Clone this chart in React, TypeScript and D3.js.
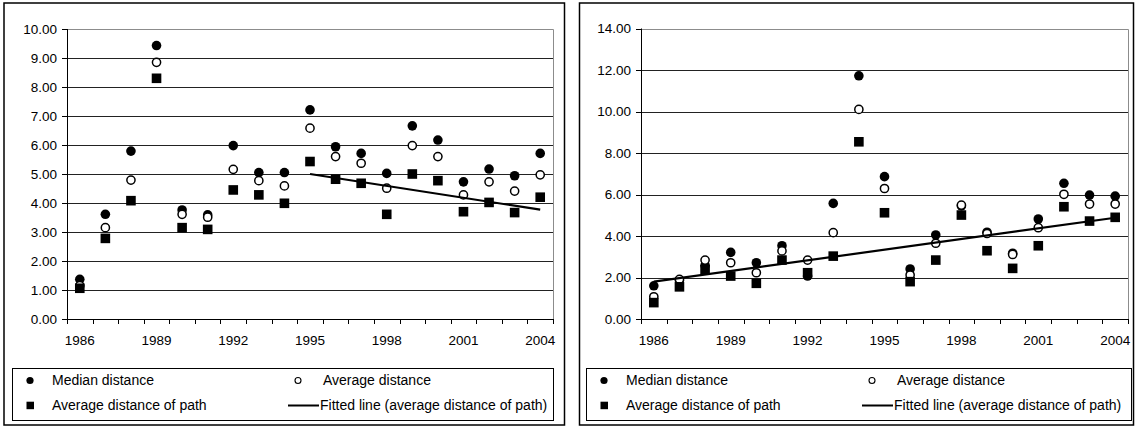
import React from 'react';
import * as d3 from 'd3';

// ---------- data ----------
const years = ['1986', '1987', '1988', '1989', '1990', '1991', '1992', '1993', '1994', '1995',
  '1996', '1997', '1998', '1999', '2000', '2001', '2002', '2003', '2004'];
const yearLabels = ['1986', '1989', '1992', '1995', '1998', '2001', '2004'];

const leftMedian = [1.37, 3.61, 5.79, 9.43, 3.76, 3.59, 5.98, 5.05, 5.05, 7.21,
  5.94, 5.71, 5.02, 6.66, 6.17, 4.73, 5.17, 4.94, 5.71];
const leftAverage = [1.15, 3.15, 4.79, 8.85, 3.61, 3.51, 5.16, 4.77, 4.59, 6.58,
  5.60, 5.37, 4.51, 5.98, 5.60, 4.28, 4.73, 4.41, 4.97];
const leftPath = [1.06, 2.78, 4.08, 8.30, 3.15, 3.09, 4.45, 4.28, 3.99, 5.43,
  4.82, 4.68, 3.61, 5.00, 4.77, 3.70, 4.02, 3.67, 4.20];
const leftFitYears = ['1995', '2004'];
const leftFitValues = [5.0, 3.77];
const leftYTicks = [0, 1, 2, 3, 4, 5, 6, 7, 8, 9, 10];

const rightMedian = [1.60, 1.85, 2.58, 3.21, 2.71, 3.53, 2.07, 5.57, 11.72, 6.86,
  2.41, 4.05, 5.45, 4.18, 3.17, 4.82, 6.54, 5.97, 5.92];
const rightAverage = [1.07, 1.91, 2.84, 2.71, 2.23, 3.28, 2.84, 4.16, 10.10, 6.29,
  2.12, 3.65, 5.49, 4.12, 3.11, 4.40, 6.01, 5.54, 5.54];
const rightPath = [0.79, 1.55, 2.38, 2.07, 1.72, 2.84, 2.23, 3.03, 8.54, 5.12,
  1.80, 2.84, 5.01, 3.29, 2.44, 3.53, 5.41, 4.72, 4.90];
const rightFitYears = ['1986', '2004'];
const rightFitValues = [1.80, 4.88];
const rightYTicks = [0, 2, 4, 6, 8, 10, 12, 14];

const legendLabels = ['Median distance', 'Average distance', 'Average distance of path',
  'Fitted line (average distance of path)'];

const FONT = '"Liberation Sans", Arial, Helvetica, sans-serif';

type ChartProps = {
  frame: [number, number, number, number]; // x0,y0,x1,y1
  plot: [number, number, number, number]; // left, top, right, bottom
  legend: [number, number, number, number];
  yTicks: number[];
  median: number[];
  average: number[];
  path: number[];
  fitYears: string[];
  fitValues: number[];
};

function Chart(p: ChartProps) {
  const [pl, pt, pr, pb] = p.plot;
  const x = d3.scaleBand<string>().domain(years).range([pl, pr]).padding(0);
  const yMax = p.yTicks[p.yTicks.length - 1];
  const y = d3.scaleLinear().domain([0, yMax]).range([pb, pt]);
  const cx = (yr: string) => (x(yr) as number) + x.bandwidth() / 2;
  const fmt = d3.format('.2f');
  const boundaries = years.map((yr) => x(yr) as number).concat([pr]);
  const fitLine = d3.line<number>()
    .x((_, i) => cx(p.fitYears[i]))
    .y((d) => y(d));
  const [lx0, ly0, lx1, ly1] = p.legend;
  const r1 = ly0 + 12.5;
  const r2 = ly0 + 37.5;
  const sq = 9.6;
  return (
    <g>
      <rect x={p.frame[0]} y={p.frame[1]} width={p.frame[2] - p.frame[0]} height={p.frame[3] - p.frame[1]}
        fill="#fff" stroke="#000" strokeWidth={1.5} />
      {/* gridlines */}
      {p.yTicks.filter((t) => t !== 0 && t !== yMax).map((t) => (
        <line key={'g' + t} x1={pl} x2={pr} y1={Math.round(y(t)) + 0.5} y2={Math.round(y(t)) + 0.5}
          stroke="#222" strokeWidth={1} />
      ))}
      {/* plot border top/right */}
      <path d={`M${pl},${Math.round(pt) + 0.5}H${pr + 0.5}V${pb}`} fill="none" stroke="#8c8c8c" strokeWidth={1} />
      {/* axes */}
      <line x1={pl + 0.5} x2={pl + 0.5} y1={pt} y2={pb} stroke="#000" strokeWidth={1} />
      <line x1={pl} x2={pr + 1} y1={pb + 0.5} y2={pb + 0.5} stroke="#000" strokeWidth={1} />
      {p.yTicks.map((t) => (
        <g key={'y' + t}>
          <line x1={pl - 5} x2={pl} y1={Math.round(y(t)) + 0.5} y2={Math.round(y(t)) + 0.5} stroke="#000" />
          <text x={pl - 10} y={y(t) + 4.8} textAnchor="end" fontFamily={FONT} fontSize={13.5} fill="#000">
            {fmt(t)}
          </text>
        </g>
      ))}
      {boundaries.map((bx, i) => (
        <line key={'xt' + i} x1={Math.round(bx) + 0.5} x2={Math.round(bx) + 0.5} y1={pb} y2={pb + 5} stroke="#000" />
      ))}
      {yearLabels.map((yr) => (
        <text key={'xl' + yr} x={cx(yr)} y={pb + 26} textAnchor="middle" fontFamily={FONT} fontSize={13.5} fill="#000">
          {yr}
        </text>
      ))}
      {/* series */}
      {p.median.map((v, i) => (
        <circle key={'m' + i} cx={cx(years[i])} cy={y(v)} r={4.8} fill="#000" />
      ))}
      {p.average.map((v, i) => (
        <circle key={'a' + i} cx={cx(years[i])} cy={y(v)} r={4.1} fill="#fff" stroke="#000" strokeWidth={1.5} />
      ))}
      {p.path.map((v, i) => (
        <rect key={'p' + i} x={cx(years[i]) - sq / 2} y={y(v) - sq / 2} width={sq} height={sq} fill="#000" />
      ))}
      <path d={fitLine(p.fitValues) as string} fill="none" stroke="#000" strokeWidth={2.2} />
      {/* legend */}
      <rect x={lx0 + 0.5} y={ly0 + 0.5} width={lx1 - lx0} height={ly1 - ly0} fill="#fff" stroke="#000" strokeWidth={1} />
      <circle cx={lx0 + 18} cy={r1} r={3.6} fill="#000" />
      <text x={lx0 + 40} y={r1 + 4.8} fontFamily={FONT} fontSize={14} fill="#000">{legendLabels[0]}</text>
      <circle cx={lx0 + 286} cy={r1} r={3} fill="#fff" stroke="#000" strokeWidth={1.1} />
      <text x={lx0 + 311} y={r1 + 4.8} fontFamily={FONT} fontSize={14} fill="#000">{legendLabels[1]}</text>
      <rect x={lx0 + 14.5} y={r2 - 3.8} width={7.5} height={7.5} fill="#000" />
      <text x={lx0 + 40} y={r2 + 4.8} fontFamily={FONT} fontSize={14} fill="#000">{legendLabels[2]}</text>
      <line x1={lx0 + 276} x2={lx0 + 307} y1={r2} y2={r2} stroke="#000" strokeWidth={2} />
      <text x={lx0 + 308} y={r2 + 4.8} fontFamily={FONT} fontSize={14} fill="#000">{legendLabels[3]}</text>
    </g>
  );
}

export default function App() {
  return (
    <svg width={1135} height={427} style={{ position: 'absolute', left: 0, top: 0, background: '#fff' }}>
      <rect x={0} y={0} width={1135} height={427} fill="#fff" />
      <Chart frame={[4, 3, 564.5, 425]} plot={[67, 29, 553, 319]} legend={[12, 368, 553, 420]}
        yTicks={leftYTicks} median={leftMedian} average={leftAverage} path={leftPath}
        fitYears={leftFitYears} fitValues={leftFitValues} />
      <Chart frame={[579.5, 3, 1133.5, 425]} plot={[641, 28.5, 1128, 319]} legend={[586, 368, 1131, 420]}
        yTicks={rightYTicks} median={rightMedian} average={rightAverage} path={rightPath}
        fitYears={rightFitYears} fitValues={rightFitValues} />
    </svg>
  );
}
